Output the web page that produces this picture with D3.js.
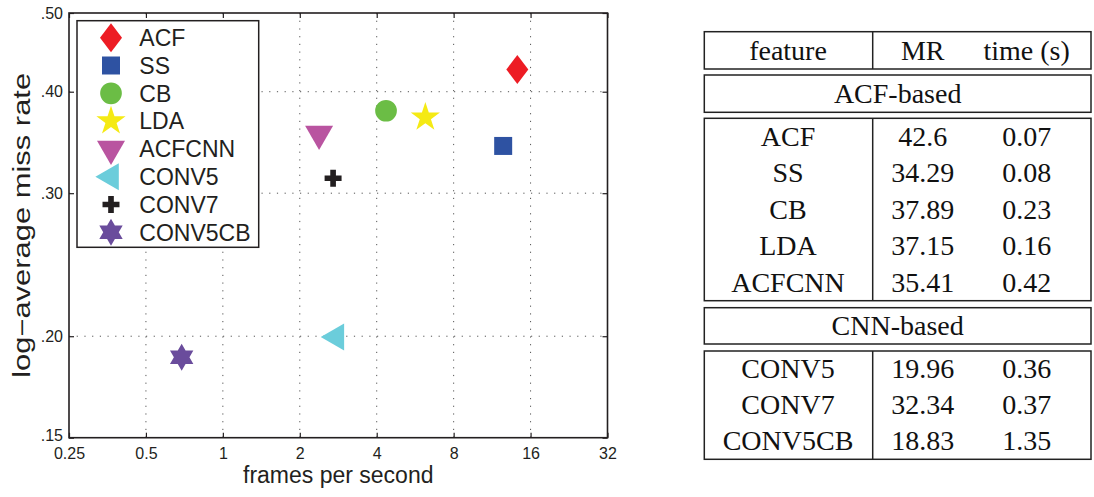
<!DOCTYPE html>
<html>
<head>
<meta charset="utf-8">
<script src="https://cdn.jsdelivr.net/npm/d3@7"></script>
<style>
  body { margin: 0; background: #fff; }
  svg { display: block; }
  .tick text { fill: #231f20; }
</style>
</head>
<body>
<svg id="chart" width="1094" height="497"></svg>
<script>
// scatter data
const methods = ["ACF", "SS", "CB", "LDA", "ACFCNN", "CONV5", "CONV7", "CONV5CB"];
const missRate = [0.426, 0.343, 0.379, 0.372, 0.355, 0.1996, 0.313, 0.1884];
const fps = [14.2, 12.5, 4.35, 6.2, 2.38, 2.78, 2.70, 0.69];
const colors = ["#ed1c24", "#2e52a2", "#6bbd45", "#f5ea14", "#b954a0", "#6bcddb", "#231f20", "#6a4c9c"];
const xTicks = [0.25, 0.5, 1, 2, 4, 8, 16, 32];
const yTicks = [0.15, 0.20, 0.30, 0.40, 0.50];

// table data
const tableHeader = ["feature", "MR", "time (s)"];
const groupNames = ["ACF-based", "CNN-based"];
const acfRows = ["ACF", "SS", "CB", "LDA", "ACFCNN"];
const acfMR = ["42.6", "34.29", "37.89", "37.15", "35.41"];
const acfTime = ["0.07", "0.08", "0.23", "0.16", "0.42"];
const cnnRows = ["CONV5", "CONV7", "CONV5CB"];
const cnnMR = ["19.96", "32.34", "18.83"];
const cnnTime = ["0.36", "0.37", "1.35"];

const svg = d3.select("#chart");
const sans = "'Liberation Sans', Arial, Helvetica, sans-serif";
const serif = "'Liberation Serif', 'Times New Roman', serif";

// plot area
const pLeft = 69, pRight = 607.5, pTop = 13, pBottom = 437.7;

const x = d3.scaleLog().base(2).domain([0.25, 32]).range([pLeft, pRight]);
const y = d3.scaleLog().domain([0.15, 0.5]).range([pBottom, pTop]);

// marker shapes
const tallDiamond = {
  draw(ctx, size) {
    const h = Math.sqrt(size / 1.52), w = h * 0.76;
    ctx.moveTo(0, -h); ctx.lineTo(w, 0); ctx.lineTo(0, h); ctx.lineTo(-w, 0); ctx.closePath();
  }
};
const hexagram = {
  draw(ctx, size) {
    const r = Math.sqrt(size), ri = r / Math.sqrt(3);
    for (let i = 0; i < 12; i++) {
      const a = -Math.PI / 2 + i * Math.PI / 6;
      const rr = i % 2 ? ri : r;
      const px = rr * Math.cos(a), py = rr * Math.sin(a);
      if (i === 0) ctx.moveTo(px, py); else ctx.lineTo(px, py);
    }
    ctx.closePath();
  }
};
const shapes = [tallDiamond, d3.symbolSquare, d3.symbolCircle, d3.symbolStar,
  d3.symbolTriangle, d3.symbolTriangle, d3.symbolCross, hexagram];
const sizes = [319, 324, 370, 265, 339, 316, 160, 182];
const rotations = [0, 0, 0, 0, 180, -90, 0, 0];

// grid
const grid = svg.append("g").attr("stroke", "#555").attr("stroke-width", 1)
  .attr("stroke-dasharray", "1.2,6.5");
xTicks.slice(1, -1).forEach(t => {
  grid.append("line").attr("x1", x(t)).attr("x2", x(t)).attr("y1", pTop).attr("y2", pBottom);
});
yTicks.slice(1, -1).forEach(t => {
  grid.append("line").attr("x1", pLeft).attr("x2", pRight).attr("y1", y(t)).attr("y2", y(t));
});

// axes
const fmtY = d => d3.format(".2f")(d).replace(/^0/, "");
svg.append("g").attr("transform", `translate(0,${pBottom})`)
  .call(d3.axisBottom(x).tickValues(xTicks).tickFormat(d => String(d))
    .tickSizeInner(-5).tickSizeOuter(0).tickPadding(10));
const yAxis = svg.append("g").attr("transform", `translate(${pLeft},0)`)
  .call(d3.axisLeft(y).tickValues(yTicks).tickFormat(fmtY)
    .tickSizeInner(-5).tickSizeOuter(0).tickPadding(6));
svg.append("g").attr("transform", `translate(0,${pTop})`)
  .call(d3.axisTop(x).tickValues(xTicks).tickFormat("").tickSizeInner(-5).tickSizeOuter(0));
svg.append("g").attr("transform", `translate(${pRight},0)`)
  .call(d3.axisRight(y).tickValues(yTicks).tickFormat("").tickSizeInner(-5).tickSizeOuter(0));

svg.selectAll(".domain").remove();
svg.selectAll(".tick line").attr("stroke", "#231f20").attr("stroke-width", 1.2);
svg.selectAll(".tick text").attr("font-family", sans).attr("font-size", 16);
// the lowest y label sits just above the x labels
yAxis.selectAll(".tick text").filter(d => d === 0.15).attr("dy", "0.2em");

svg.append("rect")
  .attr("x", pLeft).attr("y", pTop)
  .attr("width", pRight - pLeft).attr("height", pBottom - pTop)
  .attr("fill", "none").attr("stroke", "#231f20").attr("stroke-width", 1.6);

// axis titles
svg.append("text")
  .attr("x", (pLeft + pRight) / 2).attr("y", 483)
  .attr("text-anchor", "middle")
  .attr("font-family", sans).attr("font-size", 23).attr("fill", "#231f20")
  .text("frames per second");
svg.append("text")
  .attr("transform", `translate(30,${(pTop + pBottom) / 2}) rotate(-90)`)
  .attr("text-anchor", "middle")
  .attr("font-family", sans).attr("font-size", 23).attr("fill", "#231f20")
  .attr("textLength", 305).attr("lengthAdjust", "spacingAndGlyphs")
  .text("log\u2212average miss rate");

// points
const symbol = d3.symbol();
svg.append("g").selectAll("path")
  .data(methods)
  .join("path")
  .attr("d", (d, i) => symbol.type(shapes[i]).size(sizes[i])())
  .attr("transform", (d, i) => `translate(${x(fps[i])},${y(missRate[i])}) rotate(${rotations[i]})`)
  .attr("fill", (d, i) => colors[i]);

// legend
const legend = svg.append("g");
legend.append("rect")
  .attr("x", 77).attr("y", 20.7).attr("width", 181.7).attr("height", 226.6)
  .attr("fill", "#fff").attr("stroke", "#231f20").attr("stroke-width", 1.5);
const rows = legend.selectAll("g.item")
  .data(methods)
  .join("g")
  .attr("class", "item")
  .attr("transform", (d, i) => `translate(0,${37.7 + i * 27.8})`);
rows.append("path")
  .attr("d", (d, i) => symbol.type(shapes[i]).size(sizes[i])())
  .attr("transform", (d, i) => `translate(111,0) rotate(${rotations[i]})`)
  .attr("fill", (d, i) => colors[i]);
rows.append("text")
  .attr("x", 139.3).attr("y", 8.2)
  .attr("font-family", sans).attr("font-size", 23).attr("fill", "#231f20")
  .text(d => d);

// table
const tLeft = 704.3, tRight = 1091, tDiv = 872.7;
const colX = [788, 922.7, 1026.7];
const table = svg.append("g").attr("font-family", serif).attr("font-size", 28).attr("fill", "#111");

function box(y0, y1, divider) {
  table.append("rect")
    .attr("x", tLeft).attr("y", y0).attr("width", tRight - tLeft).attr("height", y1 - y0)
    .attr("fill", "none").attr("stroke", "#222").attr("stroke-width", 1.5);
  if (divider) {
    table.append("line")
      .attr("x1", tDiv).attr("x2", tDiv).attr("y1", y0).attr("y2", y1)
      .attr("stroke", "#222").attr("stroke-width", 1.5);
  }
}
function cell(txt, cx, cy) {
  table.append("text")
    .attr("x", cx).attr("y", cy).attr("dy", "0.33em")
    .attr("text-anchor", "middle").text(txt);
}

box(31.7, 69, true);
tableHeader.forEach((h, i) => cell(h, colX[i], 50.4));

box(75, 112.3, false);
cell(groupNames[0], (tLeft + tRight) / 2, 93.7);

const acfTop = 118.3, acfBot = 300.7;
box(acfTop, acfBot, true);
const acfStep = (acfBot - acfTop) / acfRows.length;
acfRows.forEach((r, i) => {
  const cy = acfTop + acfStep * (i + 0.5);
  cell(r, colX[0], cy); cell(acfMR[i], colX[1], cy); cell(acfTime[i], colX[2], cy);
});

box(307.7, 344, false);
cell(groupNames[1], (tLeft + tRight) / 2, 325.9);

const cnnTop = 351, cnnBot = 459.3;
box(cnnTop, cnnBot, true);
const cnnStep = (cnnBot - cnnTop) / cnnRows.length;
cnnRows.forEach((r, i) => {
  const cy = cnnTop + cnnStep * (i + 0.5);
  cell(r, colX[0], cy); cell(cnnMR[i], colX[1], cy); cell(cnnTime[i], colX[2], cy);
});
</script>
</body>
</html>
